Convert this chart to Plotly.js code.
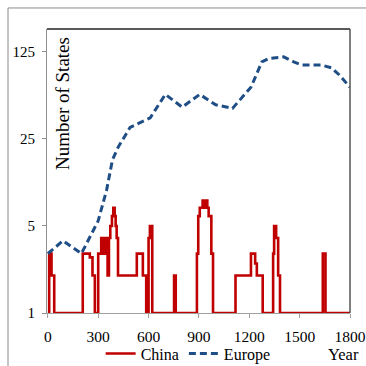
<!DOCTYPE html>
<html>
<head>
<meta charset="utf-8">
<script src="https://cdn.plot.ly/plotly-3.0.1.min.js"></script>
<style>
html,body{margin:0;padding:0;background:#fff;overflow:hidden;}
#chart{width:366px;height:366px;}
</style>
</head>
<body>
<div id="chart"></div>
<script>
// China: number of states (step line)
const chinaYears  = [0, 8, 22, 38, 208, 250, 266, 280, 300, 318, 326, 332, 338, 344, 350, 356, 364, 372, 382, 390, 398, 404, 410, 418, 530, 566, 586, 600, 608, 622, 752, 762, 888, 896, 905, 922, 932, 940, 950, 958, 974, 984, 1118, 1210, 1235, 1245, 1280, 1342, 1348, 1360, 1372, 1383, 1638, 1654, 1800];
const chinaStates = [1, 3, 2, 1, 3, 2.8, 2, 1, 3, 4, 3, 4, 3, 4, 3, 2, 4, 5, 6, 7, 6, 5, 4, 2, 3, 2, 1, 4, 5, 1, 2, 1, 3, 6, 7, 8, 7, 8, 7, 6, 3, 1, 2, 3, 2.5, 2, 1, 3, 5, 4, 2, 1, 3, 1, 1];
// Europe: number of states (dashed line)
const europeYears  = [0, 90, 200, 300, 350, 385, 420, 490, 610, 700, 800, 905, 1000, 1100, 1210, 1275, 1320, 1405, 1465, 1515, 1630, 1690, 1735, 1800];
const europeStates = [3, 3.8, 3, 5.5, 9.7, 17, 21.6, 31, 37, 57, 45, 57, 47, 44, 65, 104, 111, 114, 104, 98, 98, 93, 82, 65];
// Axis ticks
const xTicks = [0, 300, 600, 900, 1200, 1500, 1800];
const yTicks = [1, 5, 25, 125];

const serif = '"Liberation Serif", "Times New Roman", serif';

const traces = [
  {x: chinaYears, y: chinaStates, name: 'China', type: 'scatter', mode: 'lines',
   line: {shape: 'hv', color: '#C00000', width: 2.6}},
  {x: europeYears, y: europeStates, name: 'Europe', type: 'scatter', mode: 'lines',
   line: {color: '#1F4E86', width: 3, dash: '7px,4px'}}
];

const layout = {
  width: 366, height: 366,
  margin: {l: 47, r: 16, t: 29, b: 53, autoexpand: false},
  paper_bgcolor: '#fff', plot_bgcolor: '#fff',
  font: {family: serif, color: '#000', size: 15},
  showlegend: true,
  legend: {orientation: 'h', xref: 'container', yref: 'container', x: 0.275, y: 0.034,
           xanchor: 'left', yanchor: 'middle',
           font: {family: serif, size: 16, color: '#000'}, itemwidth: 30, tracegroupgap: 0,
           bgcolor: 'rgba(0,0,0,0)'},
  xaxis: {range: [-5, 1800], tickvals: xTicks, ticktext: xTicks.map(String),
          showgrid: false, zeroline: false, showline: true, linecolor: '#a0a0a0', linewidth: 1,
          ticks: 'outside', ticklen: 4, tickcolor: '#a0a0a0', ticklabelstandoff: 5,
          tickfont: {family: serif, size: 15.5, color: '#000'}, automargin: false},
  yaxis: {type: 'log', range: [0, 2.281], tickvals: yTicks, ticktext: yTicks.map(String),
          showgrid: false, zeroline: false, showline: true, linecolor: '#909090', linewidth: 1,
          ticks: 'outside', ticklen: 4, tickcolor: '#909090', ticklabelstandoff: 4,
          tickfont: {family: serif, size: 15, color: '#000'}, automargin: false},
  shapes: [
    {type: 'rect', xref: 'paper', yref: 'paper', x0: -0.1287, y0: -0.5, x1: 1.5, y1: 1.074,
     line: {color: '#8a8a8a', width: 1}, fillcolor: 'rgba(0,0,0,0)', layer: 'below'},
    {type: 'line', xref: 'paper', yref: 'paper', x0: 0, y0: 1, x1: 1, y1: 1,
     line: {color: '#222', width: 1.3}},
    {type: 'line', xref: 'paper', yref: 'paper', x0: 1, y0: 0, x1: 1, y1: 1,
     line: {color: '#555', width: 1.5}}
  ],
  annotations: [
    {text: 'Number of States', xref: 'paper', yref: 'paper', x: 0.053, y: 0.736,
     textangle: -90, showarrow: false, xanchor: 'center', yanchor: 'middle',
     font: {family: serif, size: 19, color: '#000'}},
    {text: 'Year', xref: 'paper', yref: 'paper', x: 0.98, y: -0.147,
     showarrow: false, xanchor: 'center', yanchor: 'middle',
     font: {family: serif, size: 16.5, color: '#000'}}
  ]
};

Plotly.newPlot('chart', traces, layout, {staticPlot: true, displayModeBar: false});
</script>
</body>
</html>
